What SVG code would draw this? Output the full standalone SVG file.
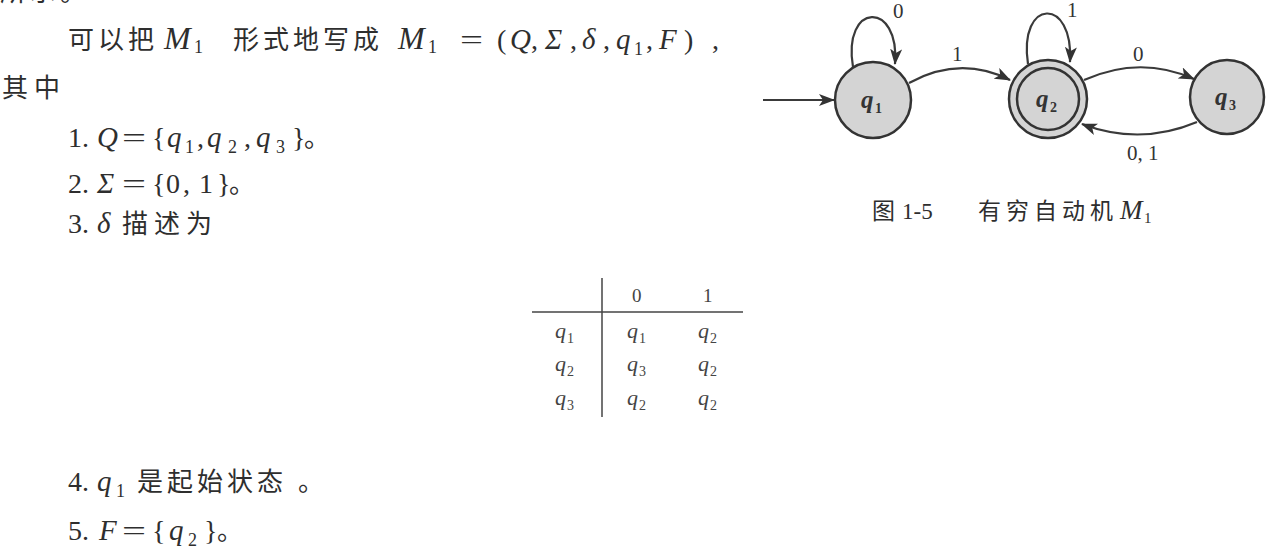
<svg xmlns="http://www.w3.org/2000/svg" width="1277" height="550" viewBox="0 0 1277 550">
<style>
text { fill: #2e2e2e; }
.cj { font-family: "Noto Sans CJK SC", sans-serif; font-size: 26px; letter-spacing: 4px; }
.mi { font-family: "Liberation Serif", serif; font-style: italic; font-size: 29px; }
.rm { font-family: "Liberation Serif", serif; font-size: 28px; }
.sb { font-family: "Liberation Serif", serif; font-size: 18px; }
.tq { font-family: "Liberation Serif", serif; font-style: italic; font-size: 22px; fill: #444; }
.ts { font-family: "Liberation Serif", serif; font-size: 14px; fill: #444; }
.th { font-family: "Liberation Serif", serif; font-size: 19px; fill: #444; }
.nq { font-family: "Liberation Serif", serif; font-style: italic; font-weight: bold; font-size: 25px; fill: #333; }
.ns { font-family: "Liberation Serif", serif; font-weight: bold; font-size: 14px; fill: #333; }
.el { font-family: "Liberation Serif", serif; font-size: 21px; fill: #333; }
.state { fill: #d4d4d4; stroke: #333; stroke-width: 2.5; }
.edge { fill: none; stroke: #3a3a3a; stroke-width: 2.2; marker-end: url(#ah); }
.rule { stroke: #444; stroke-width: 1.5; }
</style>
<defs>
<marker id="ah" markerUnits="userSpaceOnUse" markerWidth="16" markerHeight="12" refX="15" refY="6" orient="auto">
<path d="M0,0 L16,6 L0,12 L4,6 z" fill="#333"/>
</marker>
</defs>

<g id="text-body">
<text class="cj" x="0" y="1">所示。</text>
<text class="cj" x="68" y="49">可以把</text>
<text class="mi" x="164" y="49" style="font-size:32px">M</text>
<text class="sb" x="194" y="53">1</text>
<text class="cj" x="233" y="49">形式地写成</text>
<text class="mi" x="398" y="49" style="font-size:32px">M</text>
<text class="sb" x="428" y="53">1</text>
<text class="rm" x="460" y="49" textLength="23" lengthAdjust="spacingAndGlyphs">=</text>
<text class="rm" x="497" y="49">(</text>
<text class="mi" x="510" y="49">Q</text>
<text class="rm" x="531" y="49">,</text>
<text class="mi" x="545" y="49">Σ</text>
<text class="rm" x="570" y="49">,</text>
<text class="mi" x="582" y="49">δ</text>
<text class="rm" x="603" y="49">,</text>
<text class="mi" x="616" y="49">q</text>
<text class="sb" x="634" y="55">1</text>
<text class="rm" x="646" y="49">,</text>
<text class="mi" x="659" y="49">F</text>
<text class="rm" x="684" y="49">)</text>
<text class="rm" x="712" y="49">,</text>

<text class="cj" x="2" y="97" style="letter-spacing:6px">其中</text>

<text class="rm" x="68" y="147">1.</text>
<text class="mi" x="97" y="147">Q</text>
<text class="rm" x="122" y="147" textLength="24" lengthAdjust="spacingAndGlyphs">=</text>
<text class="rm" x="152" y="147">{</text>
<text class="mi" x="167" y="147">q</text>
<text class="sb" x="185" y="153">1</text>
<text class="rm" x="197" y="147">,</text>
<text class="mi" x="207" y="147">q</text>
<text class="sb" x="228" y="153">2</text>
<text class="rm" x="244" y="147">,</text>
<text class="mi" x="256" y="147">q</text>
<text class="sb" x="276" y="153">3</text>
<text class="rm" x="292" y="147">}</text>
<text class="cj" x="304" y="147">。</text>

<text class="rm" x="68" y="193">2.</text>
<text class="mi" x="97" y="193">Σ</text>
<text class="rm" x="122" y="193" textLength="24" lengthAdjust="spacingAndGlyphs">=</text>
<text class="rm" x="152" y="193">{</text>
<text class="rm" x="166" y="193">0</text>
<text class="rm" x="183" y="193">,</text>
<text class="rm" x="199" y="193">1</text>
<text class="rm" x="217" y="193">}</text>
<text class="cj" x="229" y="193">。</text>

<text class="rm" x="68" y="233">3.</text>
<text class="mi" x="97" y="233">δ</text>
<text class="cj" x="122" y="233" style="letter-spacing:6px">描述为</text>

<text class="rm" x="68" y="491">4.</text>
<text class="mi" x="97" y="491">q</text>
<text class="sb" x="116" y="497">1</text>
<text class="cj" x="137" y="491">是起始状态</text>
<text class="cj" x="298" y="491">。</text>

<text class="rm" x="68" y="540">5.</text>
<text class="mi" x="99" y="540">F</text>
<text class="rm" x="122" y="540" textLength="24" lengthAdjust="spacingAndGlyphs">=</text>
<text class="rm" x="152" y="540">{</text>
<text class="mi" x="169" y="540">q</text>
<text class="sb" x="188" y="546">2</text>
<text class="rm" x="204" y="540">}</text>
<text class="cj" x="217" y="540">。</text>
</g>

<g id="transition-table">
<line class="rule" x1="602" y1="278" x2="602" y2="417"/>
<line class="rule" x1="532" y1="312" x2="743" y2="312"/>
<text class="th" x="632" y="302">0</text>
<text class="th" x="703" y="302">1</text>
<text class="tq" x="555" y="338">q</text><text class="ts" x="567" y="343">1</text>
<text class="tq" x="627" y="338">q</text><text class="ts" x="639" y="343">1</text>
<text class="tq" x="698" y="338">q</text><text class="ts" x="710" y="343">2</text>
<text class="tq" x="555" y="371">q</text><text class="ts" x="567" y="376">2</text>
<text class="tq" x="627" y="371">q</text><text class="ts" x="639" y="376">3</text>
<text class="tq" x="698" y="371">q</text><text class="ts" x="710" y="376">2</text>
<text class="tq" x="555" y="405">q</text><text class="ts" x="567" y="410">3</text>
<text class="tq" x="627" y="405">q</text><text class="ts" x="639" y="410">2</text>
<text class="tq" x="698" y="405">q</text><text class="ts" x="710" y="410">2</text>
</g>

<g id="connectors">
<path class="edge" d="M763,100 L834,100"/>
<path class="edge" d="M853,67 C842,2 900,0 895,64"/>
<path class="edge" d="M1028,64 C1018,-2 1074,-4 1070,62"/>
<path class="edge" d="M909,83 Q960,55 1010,80"/>
<path class="edge" d="M1084,80 Q1140,55 1194,79"/>
<path class="edge" d="M1197,122 Q1140,146 1082,124"/>
<text class="el" x="893" y="18">0</text>
<text class="el" x="1067" y="17">1</text>
<text class="el" x="952" y="61">1</text>
<text class="el" x="1133" y="61">0</text>
<text class="el" x="1127" y="160">0, 1</text>
</g>

<g id="node-q1">
<circle class="state" cx="873" cy="100" r="38"/>
<text class="nq" x="861" y="108">q</text><text class="ns" x="875" y="113">1</text>
</g>
<g id="node-q2">
<circle class="state" cx="1048" cy="99" r="39"/>
<circle class="state" cx="1048" cy="99" r="31"/>
<text class="nq" x="1036" y="107">q</text><text class="ns" x="1050" y="112">2</text>
</g>
<g id="node-q3">
<circle class="state" cx="1227" cy="97" r="37"/>
<text class="nq" x="1215" y="105">q</text><text class="ns" x="1229" y="110">3</text>
</g>

<g id="caption">
<text class="cj" x="872" y="219" style="font-size:23px">图</text>
<text class="rm" x="902" y="219" style="font-size:23px">1-5</text>
<text class="cj" x="978" y="219" style="font-size:23px;letter-spacing:5px">有穷自动机</text>
<text class="mi" x="1120" y="219" style="font-size:27px">M</text>
<text class="sb" x="1144" y="223" style="font-size:15px">1</text>
</g>
</svg>
